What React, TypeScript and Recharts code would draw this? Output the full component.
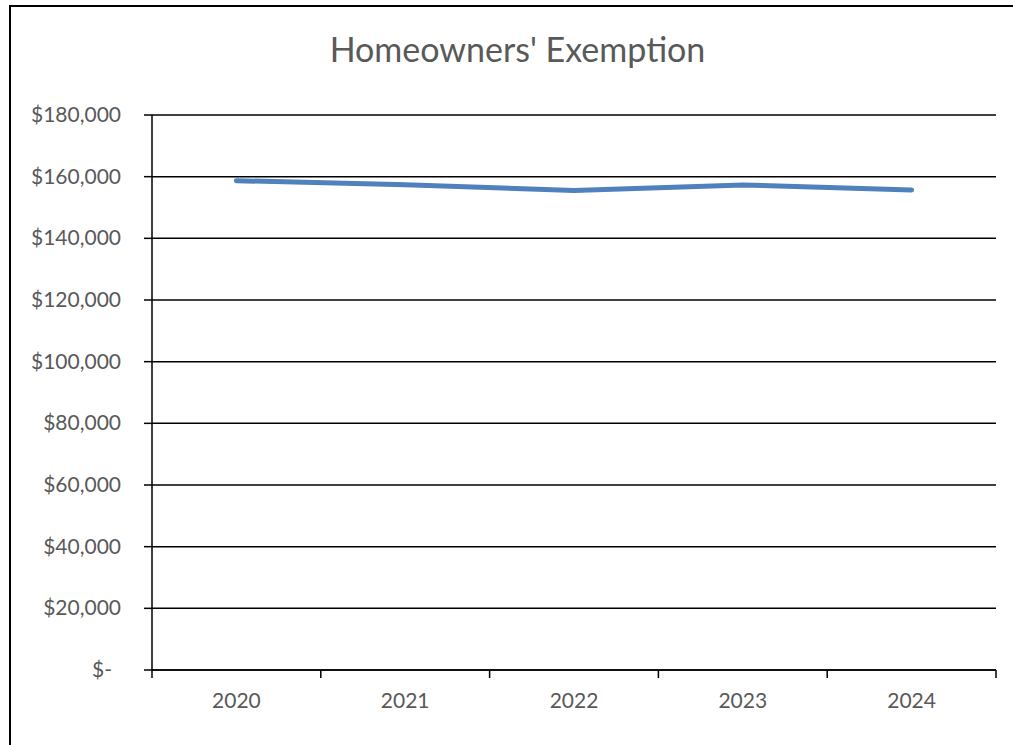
import React from 'react';
import { CartesianGrid, Line, LineChart, XAxis, YAxis } from 'recharts';

const years = ['2020', '2021', '2022', '2023', '2024'];
const exemption = [158700, 157400, 155500, 157300, 155700];
const yTicks = [0, 20000, 40000, 60000, 80000, 100000, 120000, 140000, 160000, 180000];

const data = years.map((year, i) => ({ year, value: exemption[i] }));

const FONT = 'Lato, "Open Sans", sans-serif';
const GREY = '#595959';
const PLOT_LEFT = 152;
const PLOT_RIGHT = 996;
const BAND = (PLOT_RIGHT - PLOT_LEFT) / years.length;

const fmtMoney = (v: number) =>
  v === 0 ? '$-' : '$' + v.toLocaleString('en-US');

const XTick = ({ x, y, payload, index }: any) => {
  const left = x - BAND / 2;
  const right = x + BAND / 2;
  return (
    <g>
      <line x1={left} x2={left} y1={y} y2={y + 8} stroke='#000' strokeWidth={1.5} />
      {index === years.length - 1 && (
        <line x1={right} x2={right} y1={y} y2={y + 8} stroke='#000' strokeWidth={1.5} />
      )}
      <text
        x={x}
        y={y + 38}
        textAnchor='middle'
        fill={GREY}
        fontSize={21}
        fontFamily={FONT}
      >
        {payload.value}
      </text>
    </g>
  );
};

const YTick = ({ x, y, payload }: any) => (
  <text
    x={payload.value === 0 ? x - 9 : x}
    y={y}
    dy={7}
    textAnchor='end'
    fill={GREY}
    fontSize={21}
    fontFamily={FONT}
  >
    {fmtMoney(payload.value)}
  </text>
);

export default function App() {
  return (
    <div
      style={{
        position: 'absolute',
        left: 0,
        top: 0,
        width: 1013,
        height: 745,
        overflow: 'hidden',
        background: '#fff',
      }}
    >
      <div
        style={{
          position: 'absolute',
          left: 9,
          top: 5,
          width: 1100,
          height: 800,
          borderLeft: '2px solid #000',
          borderTop: '2px solid #000',
        }}
      />
      <div
        style={{
          position: 'absolute',
          left: 9,
          top: 29,
          width: 1017,
          textAlign: 'center',
          fontFamily: FONT,
          fontSize: 34,
          lineHeight: '40px',
          color: GREY,
        }}
      >
        Homeowners' Exemption
      </div>
      <div style={{ position: 'absolute', left: 0, top: 0 }}>
        <LineChart
          width={1013}
          height={745}
          data={data}
          margin={{ top: 115, right: 17, bottom: 35, left: 12 }}
        >
          <CartesianGrid vertical={false} stroke='#000' strokeWidth={1.5} />
          <XAxis
            dataKey='year'
            height={40}
            tickLine={false}
            tickSize={0}
            tickMargin={0}
            padding={{ left: BAND / 2, right: BAND / 2 }}
            axisLine={{ stroke: '#000', strokeWidth: 1.5 }}
            tick={<XTick />}
            interval={0}
          />
          <YAxis
            width={140}
            domain={[0, 180000]}
            ticks={yTicks}
            interval={0}
            tickSize={8}
            tickMargin={23}
            tickLine={{ stroke: '#000', strokeWidth: 1.5 }}
            axisLine={{ stroke: '#000', strokeWidth: 1.5 }}
            tick={<YTick />}
          />
          <Line
            type='linear'
            dataKey='value'
            stroke='#4F81BD'
            strokeWidth={5}
            strokeLinecap='round'
            dot={false}
            isAnimationActive={false}
          />
        </LineChart>
      </div>
    </div>
  );
}
